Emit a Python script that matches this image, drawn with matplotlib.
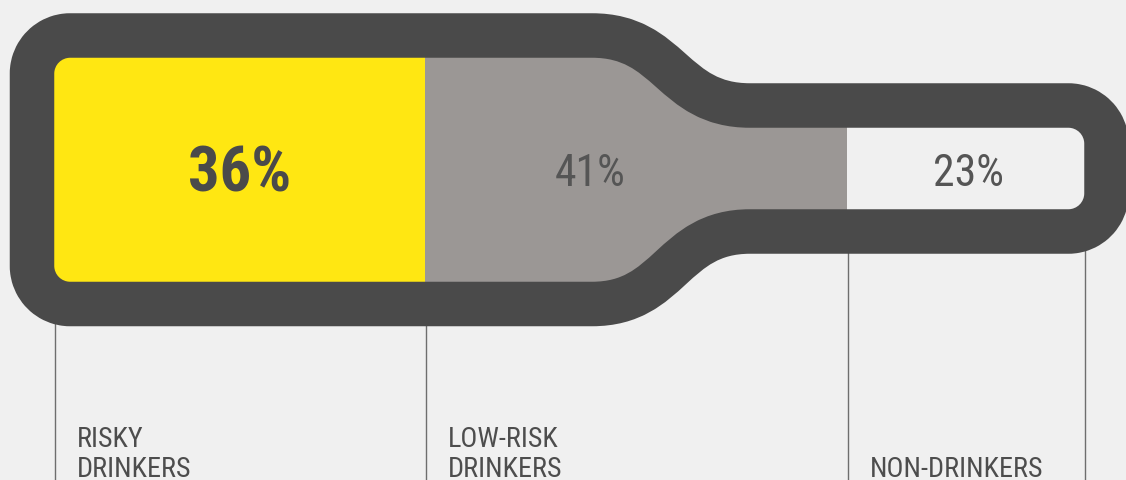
import matplotlib.pyplot as plt
import numpy as np
from matplotlib.path import Path
from matplotlib.patches import PathPatch

# data
categories = ["RISKY\nDRINKERS", "LOW-RISK\nDRINKERS", "NON-DRINKERS"]
shares = [36, 41, 23]
value_labels = ["36%", "41%", "23%"]
fill_colors = ["#ffe712", "#9b9795", "#f0f0f0"]

BG = "#f0f0f0"
DARK = "#4a4a4a"
TEXT = "#4d4d4d"
FONT = ["Roboto Condensed", "Roboto"]

fig = plt.figure(figsize=(11.26, 4.8), dpi=100, facecolor=BG)
ax = fig.add_axes([0, 0, 1, 1])
ax.set_facecolor(BG)
ax.set_xlim(0, 1126)
ax.set_ylim(480, 0)
ax.axis("off")

# bottle outline (centre line of the thick stroke), pixel units
x0, x1 = 32, 1106.5
body_top, body_bot = 35.5, 304
neck_top, neck_bot = 105.5, 231.5
sh0, sh1 = 592, 750
mid = (sh0 + sh1) / 2
r = 38
k = 0.5523 * r
lw = 44.5

M, L, C = Path.MOVETO, Path.LINETO, Path.CURVE4
verts = [(x0 + r, body_top), (sh0, body_top),
         (mid, body_top), (mid, neck_top), (sh1, neck_top),
         (x1 - r, neck_top),
         (x1 - r + k, neck_top), (x1, neck_top + r - k), (x1, neck_top + r),
         (x1, neck_bot - r),
         (x1, neck_bot - r + k), (x1 - r + k, neck_bot), (x1 - r, neck_bot),
         (sh1, neck_bot),
         (mid, neck_bot), (mid, body_bot), (sh0, body_bot),
         (x0 + r, body_bot),
         (x0 + r - k, body_bot), (x0, body_bot - r + k), (x0, body_bot - r),
         (x0, body_top + r),
         (x0, body_top + r - k), (x0 + r - k, body_top), (x0 + r, body_top),
         (x0 + r, body_top)]
codes = [M, L, C, C, C, L, C, C, C, L, C, C, C, L, C, C, C, L, C, C, C, L,
         C, C, C, Path.CLOSEPOLY]
bottle = Path(verts, codes)

clip = PathPatch(bottle, facecolor="none", edgecolor="none")
ax.add_patch(clip)

inner_left = x0 + lw / 2
inner_right = x1 - lw / 2
span = inner_right - inner_left
widths = np.array(shares) / 100 * span
lefts = inner_left + np.concatenate([[0], np.cumsum(widths)[:-1]])
bounds = np.concatenate([[inner_left], lefts + widths])

# thin guide lines under the bottle
ax.vlines(bounds + 1, 240, 480, color="#6e6e6e", lw=1, zorder=1)

bars = ax.barh((body_top + body_bot) / 2, widths, left=lefts,
               height=body_bot - body_top + 10, color=fill_colors,
               linewidth=0, zorder=2)
for b in bars:
    b.set_clip_path(clip)

ax.add_patch(PathPatch(bottle, facecolor="none", edgecolor=DARK,
                       lw=lw * 72 / 100, joinstyle="round", zorder=3))

# percentages
for i, lab in enumerate(value_labels):
    cx = (lefts[i] + min(lefts[i] + widths[i], sh1)) / 2
    if lefts[i] >= sh1:
        cx = lefts[i] + widths[i] / 2
    if i == 0:
        ax.text(cx, 192, lab, ha="center", va="baseline", fontsize=45,
                fontweight="bold", color=DARK, family=FONT, zorder=4)
    else:
        ax.text(cx + 3, 186, lab, ha="center", va="baseline", fontsize=31.5,
                color="#555555", family=FONT, zorder=4)

# category labels
for i, cat in enumerate(categories):
    ax.text(lefts[i] + 23, 477, cat, ha="left", va="baseline", fontsize=20.3,
            color=TEXT, family=FONT, linespacing=1.12, zorder=4)

fig.savefig("out.png", dpi=100, facecolor=BG)
